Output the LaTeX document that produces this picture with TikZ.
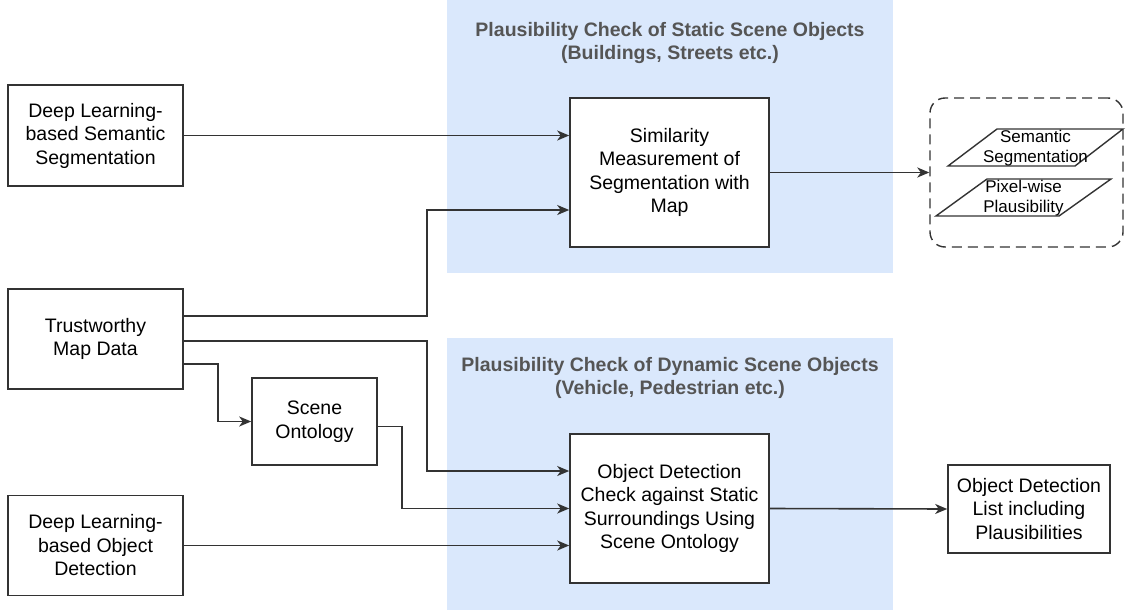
\documentclass[tikz,border=0pt]{standalone}
\usepackage{fontspec}
\setmainfont{Liberation Sans}
\usetikzlibrary{arrows.meta}
\definecolor{bgblue}{HTML}{DAE8FC}
\definecolor{titlegray}{HTML}{555555}
\definecolor{linegray}{HTML}{333333}

\begin{document}
\begin{tikzpicture}[x=1pt,y=-1pt,
    every node/.style={font=\fontsize{19.5}{23.5}\selectfont, align=center},
    box/.style={draw=linegray, line width=1.6pt, fill=white, inner sep=0pt},
    group/.style={fill=bgblue},
    grouptitle/.style={text=titlegray, font=\fontsize{19.5}{23}\selectfont\bfseries},
    flow/.style={draw=linegray, line width=1.6pt, -{Stealth[length=12pt,width=10pt,inset=3.5pt]}},
    sheet/.style={draw=linegray, line width=1.4pt, fill=white},
    sheettext/.style={font=\fontsize{17}{20}\selectfont}]
    \useasboundingbox (0,0) rectangle (1127,613);

    \fill[group] (447,0) rectangle (893,273);
    \fill[group] (447,338) rectangle (893,610);
    \node[grouptitle] (statictitle) at (670,43.5) {Plausibility Check of Static Scene Objects\\(Buildings, Streets etc.)};
    \node[grouptitle] (dynamictitle) at (670,377.5) {Plausibility Check of Dynamic Scene Objects\\(Vehicle, Pedestrian etc.)};

    \node[box, minimum width=175pt, minimum height=101pt] (dlss) at (95.5,135.5) {Deep Learning-\\based Semantic\\Segmentation};
    \node[box, minimum width=175pt, minimum height=100pt] (map) at (95.5,339) {Trustworthy\\Map Data};
    \node[box, minimum width=175pt, minimum height=100pt] (dlod) at (95.5,545.5) {Deep Learning-\\based Object\\Detection};
    \node[box, minimum width=125pt, minimum height=87pt] (onto) at (314.5,421.5) {Scene\\Ontology};
    \node[box, minimum width=199pt, minimum height=149pt] (sim) at (669.5,172.5) {Similarity\\Measurement of\\Segmentation with\\Map};
    \node[box, minimum width=199pt, minimum height=149pt] (odc) at (669.5,508.5) {Object Detection\\Check against Static\\Surroundings Using\\Scene Ontology};
    \node[box, minimum width=162pt, minimum height=88pt] (list) at (1029,509) {Object Detection\\List including\\Plausibilities};

    \node[draw=linegray, line width=1.4pt, dash pattern=on 10pt off 6pt, rounded corners=15pt,
          minimum width=193pt, minimum height=149pt] (out) at (1026.5,172.5) {};
    \draw[sheet] (997,129) -- (1123,129) -- (1075,166) -- (948,166) -- cycle;
    \node[sheettext] (segsheet) at (1035.5,148.5) {Semantic\\Segmentation};
    \draw[sheet] (987,179) -- (1111,179) -- (1059,216) -- (936,216) -- cycle;
    \node[sheettext] (plausheet) at (1023.5,198) {Pixel-wise\\Plausibility};

    \coordinate (mapbendA) at (427,210);
    \coordinate (mapbendB) at (427,471);
    \coordinate (mapbendC) at (218,421.5);
    \coordinate (ontobend) at (402,508.5);

    \draw[flow] (dlss.east) -- (dlss.east -| sim.west);
    \draw[flow] ([yshift=23pt]map.east) -| (mapbendA) -- (mapbendA -| sim.west);
    \draw[flow] ([yshift=-2pt]map.east) -| (mapbendB) -- (mapbendB -| odc.west);
    \draw[flow] ([yshift=-25pt]map.east) -| (mapbendC) -- (onto.west);
    \draw[flow] ([yshift=-5pt]onto.east) -| (ontobend) -- (odc.west);
    \draw[flow] (dlod.east) -- (dlod.east -| odc.west);
    \draw[flow] (sim.east) -- (out.west);
    \draw[flow] (odc.east) -- (list.west);
\end{tikzpicture}
\end{document}
